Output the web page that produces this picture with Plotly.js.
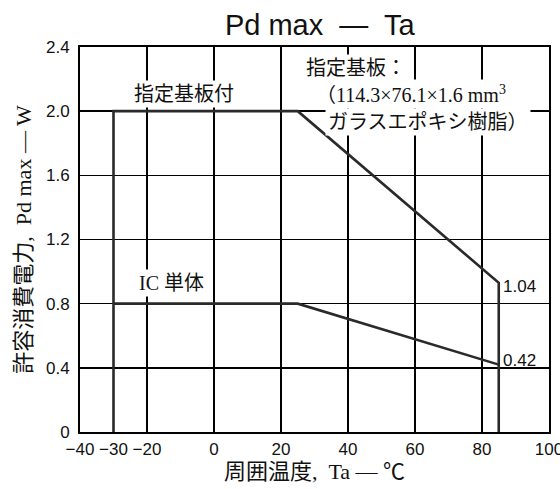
<!DOCTYPE html>
<html>
<head>
<meta charset="utf-8">
<script src="https://cdn.plot.ly/plotly-3.0.1.min.js"></script>
<style>html,body{margin:0;padding:0;background:#fff;}#chart{width:560px;height:489px;}</style>
</head>
<body>
<div id="chart"></div>
<script>
// Data
const boardTemp = [-30, -30, 25, 85, 85];
const boardPd = [0, 2.0, 2.0, 0.93, 0];
const icTemp = [-30, 25, 85];
const icPd = [0.8, 0.8, 0.42];

const xTickVals = [-40, -30, -20, 0, 20, 40, 60, 80, 100];
const xGridVals = [-20, 0, 20, 40, 60, 80];
const yTickVals = [0, 0.4, 0.8, 1.2, 1.6, 2.0, 2.4];
const yTickText = ["0", "0.4", "0.8", "1.2", "1.6", "2.0", "2.4"];

const endLabels = ["1.04", "0.42"];

const cjk = "Liberation Serif, Noto Sans CJK JP, sans-serif";
const sans = "Liberation Sans, Arial, sans-serif";

const lineStyle = {color: "#2a2a2a", width: 2.6};

const traces = [
  {x: boardTemp, y: boardPd, mode: "lines", line: lineStyle, hoverinfo: "skip", showlegend: false},
  {x: icTemp, y: icPd, mode: "lines", line: lineStyle, hoverinfo: "skip", showlegend: false}
];

const annBase = {showarrow: false, bgcolor: "#fff", borderpad: 2, font: {family: cjk, size: 20, color: "#111"}};

const layout = {
  width: 560, height: 489,
  margin: {l: 80, r: 11, t: 47, b: 57},
  paper_bgcolor: "#fff", plot_bgcolor: "#fff",
  title: {text: "Pd max\u00a0 \u2014\u00a0 Ta", x: 0.571, xanchor: "center", y: 0.949, yanchor: "middle",
          font: {family: sans, size: 29, color: "#111"}},
  xaxis: {
    range: [-40, 100], tickmode: "array", tickvals: xTickVals,
    showgrid: false, zeroline: false,
    showline: true, mirror: true, linecolor: "#000", linewidth: 2,
    ticks: "", ticklabelstandoff: 1, ticklabeloverflow: "allow",
    tickfont: {family: sans, size: 17, color: "#111"},
    minor: {tickmode: "array", tickvals: xGridVals, showgrid: true, gridcolor: "#000", gridwidth: 1.6, ticks: ""},
    title: {text: "周囲温度,\u2002Ta \u2014 ℃", font: {family: cjk, size: 22, color: "#111"}, standoff: 4}
  },
  yaxis: {
    range: [0, 2.4], tickmode: "array", tickvals: yTickVals, ticktext: yTickText,
    showgrid: true, gridcolor: "#000", gridwidth: 1.6, zeroline: false,
    showline: true, mirror: true, linecolor: "#000", linewidth: 2,
    ticks: "", ticklabelstandoff: 5,
    tickfont: {family: sans, size: 17, color: "#111"},
    title: {text: "許容消費電力,\u2002Pd max \u2014 W", font: {family: cjk, size: 22, color: "#111"}, standoff: 8}
  },
  annotations: [
    Object.assign({}, annBase, {x: -9, y: 2.107, xref: "x", yref: "y", text: "指定基板付", xanchor: "center", yanchor: "middle"}),
    Object.assign({}, annBase, {x: -12.8, y: 0.928, xref: "x", yref: "y", text: "IC 単体", xanchor: "center", yanchor: "middle"}),
    Object.assign({}, annBase, {x: 26.6, y: 2.27, xref: "x", yref: "y", text: "指定基板：", xanchor: "left", yanchor: "middle"}),
    Object.assign({}, annBase, {x: 29.6, y: 2.11, xref: "x", yref: "y", text: "（114.3×76.1×1.6 mm<sup>3</sup>", xanchor: "left", yanchor: "middle"}),
    Object.assign({}, annBase, {x: 33.1, y: 1.93, xref: "x", yref: "y", text: "ガラスエポキシ樹脂）", xanchor: "left", yanchor: "middle"}),
    {x: boardTemp[3], y: boardPd[3], xref: "x", yref: "y", text: endLabels[0], showarrow: false, xanchor: "left", yanchor: "middle",
     xshift: 2, yshift: -4, font: {family: sans, size: 17, color: "#111"}},
    {x: icTemp[2], y: icPd[2], xref: "x", yref: "y", text: endLabels[1], showarrow: false, xanchor: "left", yanchor: "middle",
     xshift: 2, yshift: 4, font: {family: sans, size: 17, color: "#111"}}
  ]
};

Plotly.newPlot("chart", traces, layout, {staticPlot: true, displayModeBar: false});
</script>
</body>
</html>
